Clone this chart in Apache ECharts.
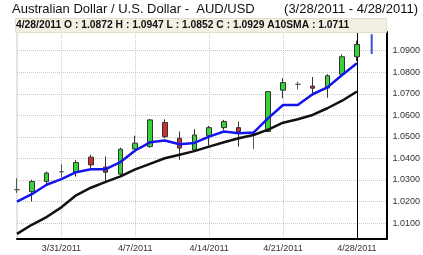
<!DOCTYPE html>
<html><head><meta charset="utf-8">
<script src="https://cdn.jsdelivr.net/npm/echarts@6/dist/echarts.min.js"></script>
<style>html,body{margin:0;padding:0;background:#fff}#c{width:423px;height:255px}</style>
</head><body><div id="c"></div>
<script>
const dates = ['3/28/2011','3/29/2011','3/30/2011','3/31/2011','4/1/2011','4/4/2011','4/5/2011','4/6/2011','4/7/2011','4/8/2011','4/11/2011','4/12/2011','4/13/2011','4/14/2011','4/15/2011','4/18/2011','4/19/2011','4/20/2011','4/21/2011','4/22/2011','4/25/2011','4/26/2011','4/27/2011','4/28/2011','4/29/2011','5/2/2011'];
const opens  = [1.0255,1.0246,1.0293,1.0338,1.0336,1.0406,1.0360,1.0327,1.0444,1.0455,1.0567,1.0494,1.0440,1.0506,1.0543,1.0543,1.0513,1.0525,1.0717,1.0744,1.0736,1.0727,1.0791,1.0872];
const highs  = [1.0308,1.0301,1.0339,1.0373,1.0393,1.0417,1.0409,1.0450,1.0506,1.0583,1.0582,1.0525,1.0536,1.0551,1.0579,1.0571,1.0525,1.0713,1.0772,1.0756,1.0778,1.0791,1.0883,1.0947];
const lows   = [1.0240,1.0200,1.0274,1.0313,1.0316,1.0352,1.0285,1.0316,1.0432,1.0450,1.0494,1.0393,1.0432,1.0460,1.0532,1.0455,1.0444,1.0522,1.0679,1.0721,1.0690,1.0682,1.0787,1.0852];
const closes = [1.0255,1.0293,1.0332,1.0338,1.0381,1.0370,1.0336,1.0443,1.0471,1.0579,1.0501,1.0448,1.0509,1.0543,1.0571,1.0525,1.0513,1.0710,1.0752,1.0744,1.0726,1.0784,1.0872,1.0929];
const smaBlue  = [1.0200,1.0234,1.0278,1.0304,1.0336,1.0350,1.0350,1.0383,1.0437,1.0475,1.0483,1.0466,1.0472,1.0501,1.0525,1.0517,1.0520,1.0587,1.0648,1.0648,1.0698,1.0730,1.0787,1.0842];
const sma10    = [1.0050,1.0092,1.0128,1.0173,1.0229,1.0264,1.0291,1.0317,1.0349,1.0375,1.0401,1.0417,1.0434,1.0455,1.0475,1.0494,1.0509,1.0534,1.0566,1.0582,1.0602,1.0633,1.0668,1.0711];
const lastBarDate = '4/29/2011';
const lastBarHigh = 1.0977, lastBarLow = 1.0885;
const yTicks = [1.01,1.02,1.03,1.04,1.05,1.06,1.07,1.08,1.09];
const xLabelDates = ['3/31/2011','4/7/2011','4/14/2011','4/21/2011','4/28/2011'];
const cursorDate = '4/28/2011';

const pad = a => dates.map((d,i) => i < a.length ? a[i] : '-');
const candles = dates.map((d,i) => i < opens.length ? [opens[i], closes[i], lows[i], highs[i]] : '-');
const li = opens.length - 1;
const info = `${dates[li]} O : ${opens[li].toFixed(4)} H : ${highs[li].toFixed(4)} L : ${lows[li].toFixed(4)} C : ${closes[li].toFixed(4)} A10SMA : ${sma10[li].toFixed(4)}`;
const showDate = (i, v) => xLabelDates.includes(v);
const FONT = '"Liberation Sans", Arial, sans-serif';

const chart = echarts.init(document.getElementById('c'), null, {renderer:'canvas'});
chart.setOption({
  animation: false,
  backgroundColor: '#fff',
  grid: {left:17, right:35, top:32, bottom:16, show:true, borderColor:'#c8c8c8', borderWidth:1},
  xAxis: {
    type:'category', data: dates, boundaryGap:false,
    axisLine:{lineStyle:{color:'#000', width:2}},
    axisTick:{show:false},
    axisLabel:{interval: showDate, color:'#333', fontSize:9, fontFamily:FONT, margin:5},
    splitLine:{show:true, interval: showDate, lineStyle:{color:'#c8c8c8', type:'dotted'}}
  },
  yAxis: {
    type:'value', position:'right', min:1.0026, max:1.0987,
    axisLine:{show:true, lineStyle:{color:'#000', width:2}},
    axisTick:{show:false},
    splitLine:{show:false},
    axisLabel:{customValues: yTicks, formatter: v => v.toFixed(4), color:'#333', fontSize:9, fontFamily:FONT, margin:6}
  },
  series: [
    {type:'line', data: pad([]), z:1, silent:true,
     markLine:{silent:true, symbol:['none','none'], z:1, label:{show:false},
       data: yTicks.map(v => ({yAxis:v, lineStyle:{color:'#c8c8c8', type:'dotted', width:1}}))
         .concat([{xAxis: cursorDate, lineStyle:{color:'#000', type:'solid', width:1}}])}},
    {type:'candlestick', data: candles, barWidth:5, z:2,
     itemStyle:{color:'#36d436', color0:'#c83232', borderColor:'#333', borderColor0:'#333', borderColorDoji:'#555', borderWidth:1}},
    {type:'line', data: pad(smaBlue), symbol:'none', z:3, lineStyle:{color:'#1414ee', width:2.5}},
    {type:'line', data: pad(sma10), symbol:'none', z:3, lineStyle:{color:'#111', width:2.5}},
    {type:'line', data: [[lastBarDate, lastBarHigh],[lastBarDate, lastBarLow]], symbol:'none', z:3, lineStyle:{color:'#3355cc', width:2}}
  ],
  graphic: [
    {type:'text', left:12, top:3, z:100, style:{text:'Australian Dollar / U.S. Dollar -  AUD/USD', font:'13px '+FONT, fill:'#111'}},
    {type:'text', right:5, top:3, z:100, style:{text:'(3/28/2011 - 4/28/2011)', font:'13px '+FONT, fill:'#111'}},
    {type:'rect', left:15, top:18, z:100, shape:{width:371, height:14}, style:{fill:'#f3f0e3', stroke:'#e2ddcc', lineWidth:1}},
    {type:'text', left:16, top:20, z:101, style:{text: info, font:'bold 10.3px '+FONT, fill:'#111'}}
  ]
});
</script></body></html>
